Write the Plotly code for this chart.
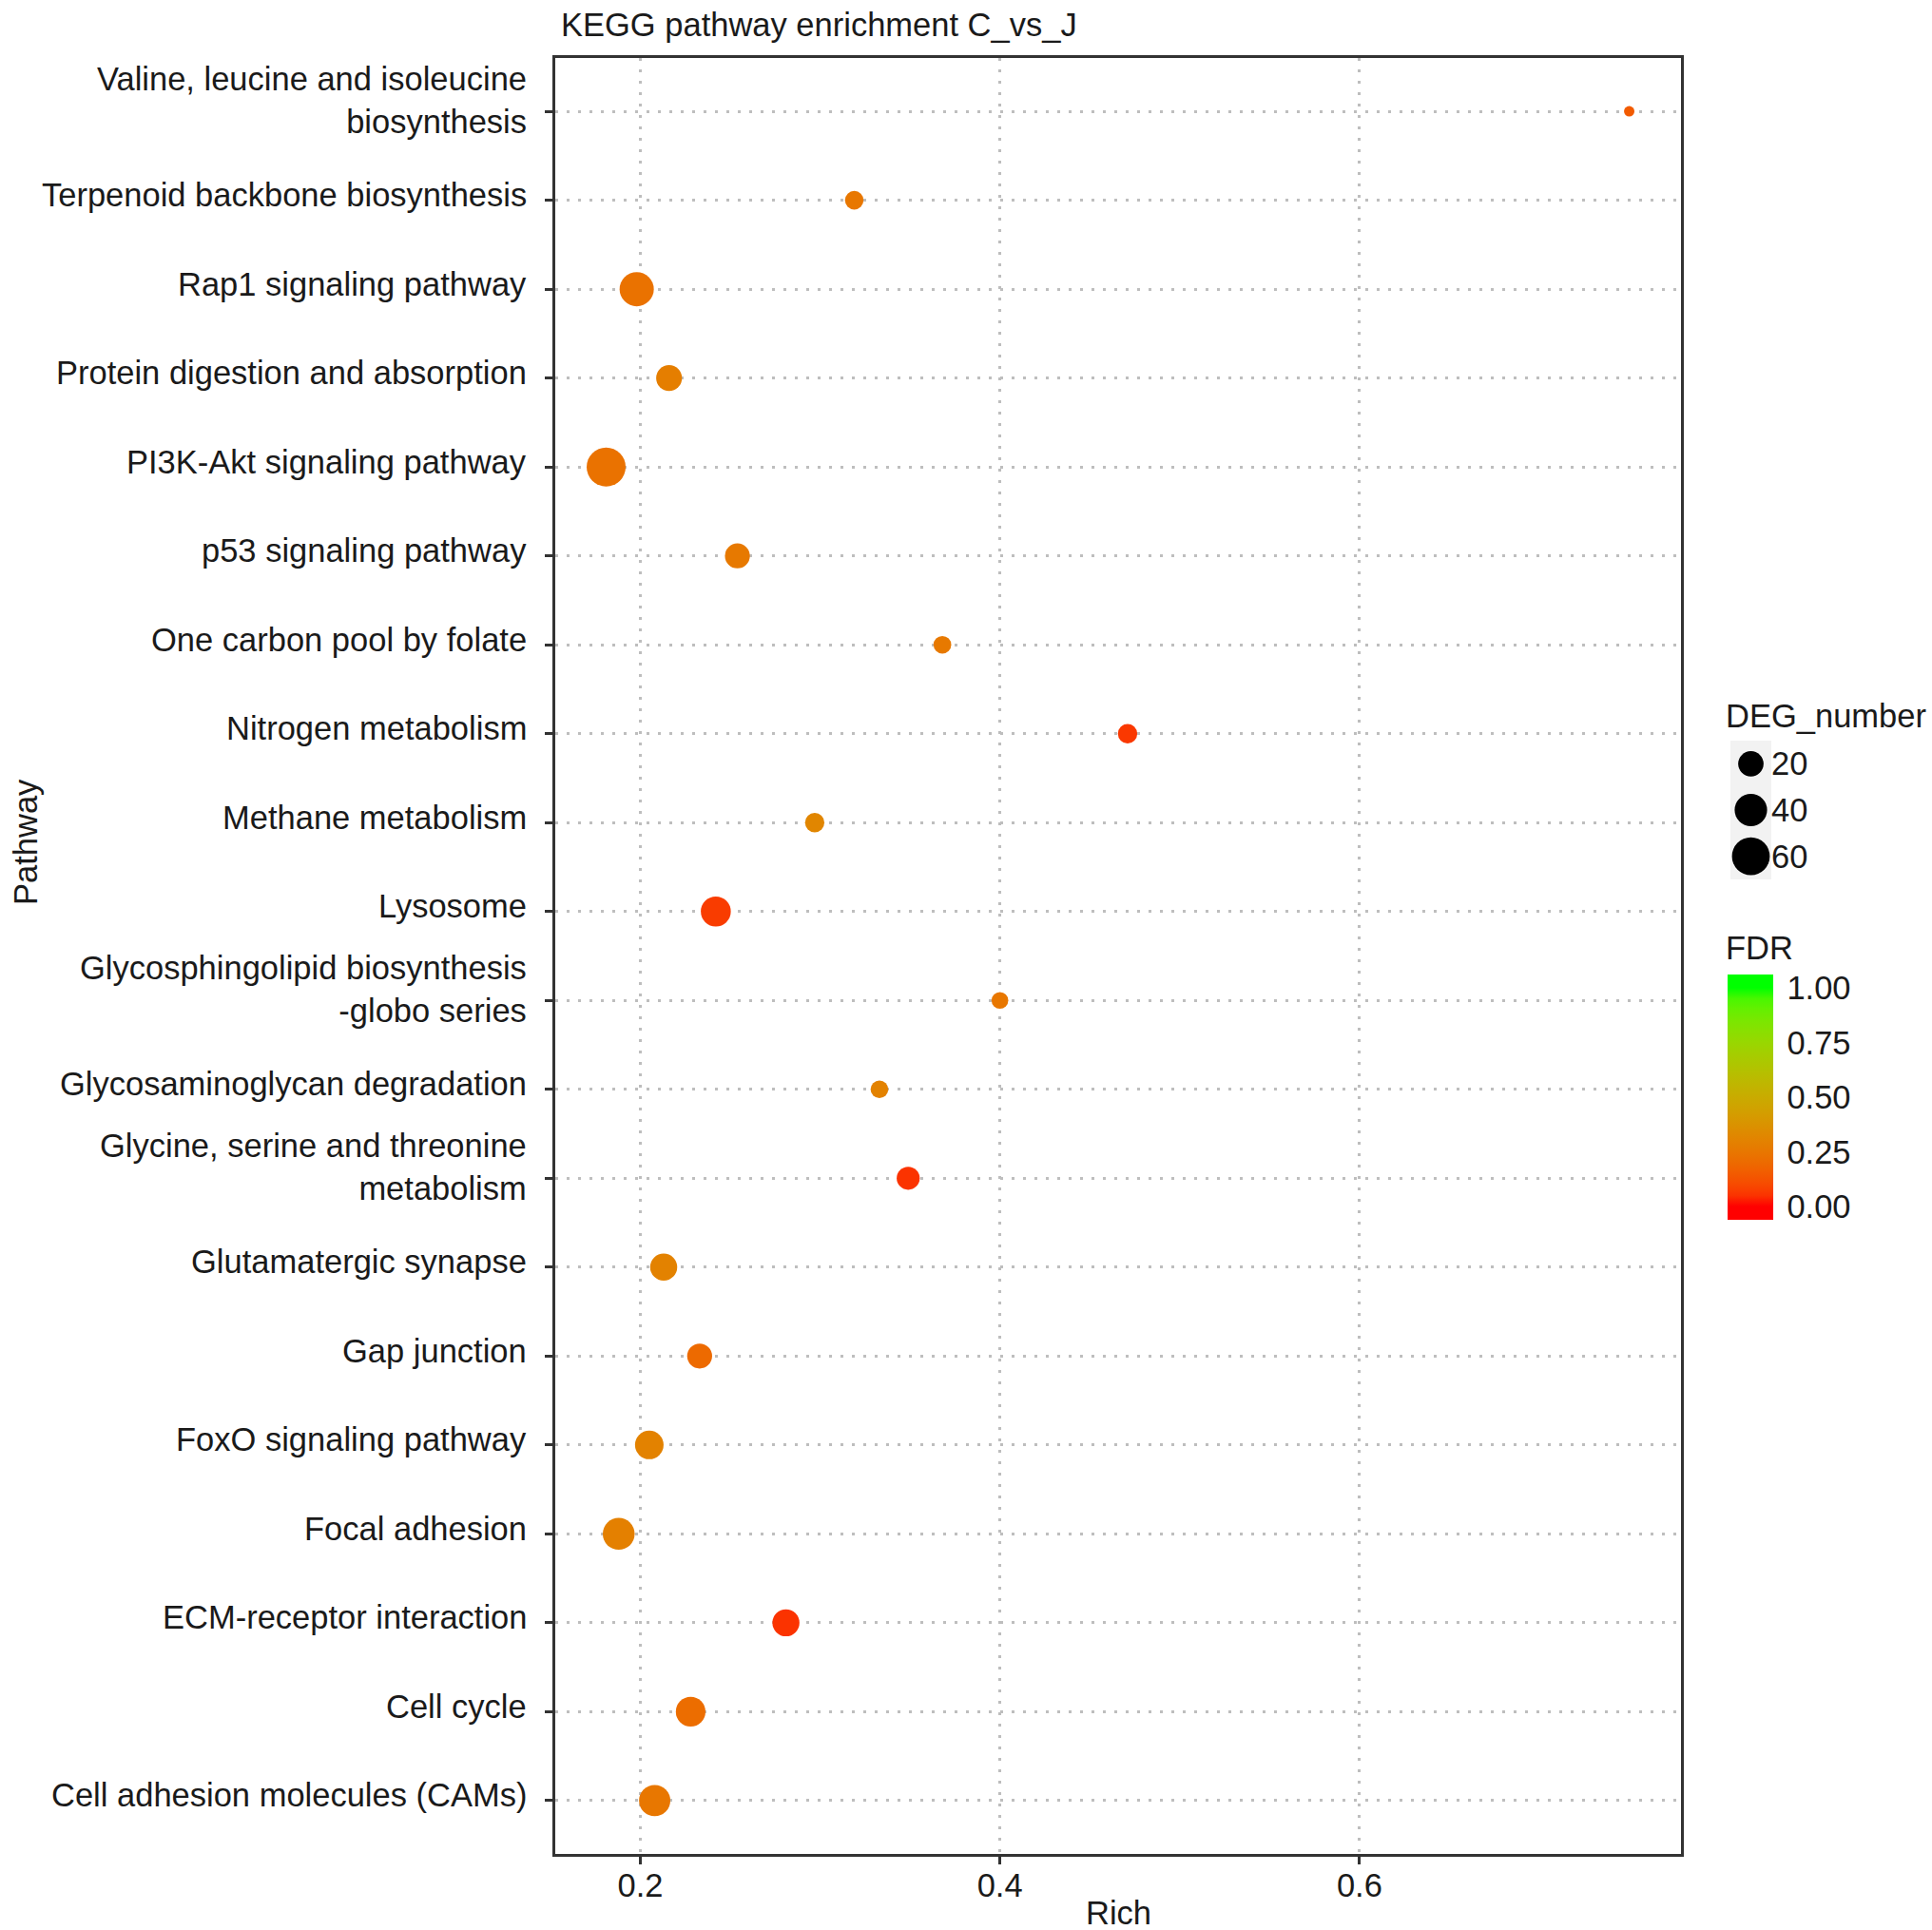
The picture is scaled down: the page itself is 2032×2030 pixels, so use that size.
import numpy as np
import plotly.graph_objects as go

# pathways listed bottom -> top (ggplot discrete order)
pathways = [
    "Cell adhesion molecules (CAMs)",
    "Cell cycle",
    "ECM-receptor interaction",
    "Focal adhesion",
    "FoxO signaling pathway",
    "Gap junction",
    "Glutamatergic synapse",
    "Glycine, serine and threonine<br>metabolism",
    "Glycosaminoglycan degradation",
    "Glycosphingolipid biosynthesis<br>-globo series",
    "Lysosome",
    "Methane metabolism",
    "Nitrogen metabolism",
    "One carbon pool by folate",
    "p53 signaling pathway",
    "PI3K-Akt signaling pathway",
    "Protein digestion and absorption",
    "Rap1 signaling pathway",
    "Terpenoid backbone biosynthesis",
    "Valine, leucine and isoleucine<br>biosynthesis",
]
rich = [0.208, 0.228, 0.281, 0.188, 0.205, 0.233, 0.213, 0.349, 0.333, 0.400,
        0.242, 0.297, 0.471, 0.368, 0.254, 0.181, 0.216, 0.198, 0.319, 0.750]
deg_number = [36, 31, 24, 38, 28, 19, 24, 15, 7, 6,
              32, 9, 9, 7, 19, 65, 21, 46, 8, 3]
fdr = [0.25, 0.21, 0.05, 0.29, 0.30, 0.20, 0.30, 0.05, 0.30, 0.25,
       0.07, 0.32, 0.06, 0.26, 0.26, 0.23, 0.28, 0.23, 0.25, 0.15]

size_legend = [20, 40, 60]
fdr_ticks = [0.0, 0.25, 0.5, 0.75, 1.0]
rich_ticks = [0.2, 0.4, 0.6]

W, H = 2032, 2030
FONT = "Liberation Sans, Arial, Helvetica, sans-serif"
FS = 34.5
TXT = "#1a1a1a"


def fx(px):
    return px / W


def fy(py):
    return 1 - py / H


def lab2hex(L, a, b):
    # CIE Lab (D65) -> sRGB hex, used to mimic ggplot's red->green gradient
    fyy = (L + 16) / 116
    fxx = fyy + a / 500
    fzz = fyy - b / 200

    def finv(t):
        return t ** 3 if t ** 3 > 0.008856 else (t - 16 / 116) / 7.787
    X, Y, Z = 0.95047 * finv(fxx), finv(fyy), 1.08883 * finv(fzz)
    rgb = [3.2406 * X - 1.5372 * Y - 0.4986 * Z,
           -0.9689 * X + 1.8758 * Y + 0.0415 * Z,
           0.0557 * X - 0.2040 * Y + 1.0570 * Z]
    out = []
    for c in rgb:
        c = max(0.0, min(1.0, c))
        c = 12.92 * c if c <= 0.0031308 else 1.055 * c ** (1 / 2.4) - 0.055
        out.append(int(round(c * 255)))
    return "#%02x%02x%02x" % tuple(out)


# colour bar runs a bit past 0 and 1 (like ggplot's binned bar), ends clamped
CMIN, CMAX = -0.061, 1.061
red_lab = (53.2408, 80.0925, 67.2032)
green_lab = (87.7347, -86.1827, 83.1793)
colorscale = [[0.0, lab2hex(*red_lab)]]
for t in np.linspace(0, 1, 21):
    L, a, b = [r + (g - r) * t for r, g in zip(red_lab, green_lab)]
    colorscale.append([float((t - CMIN) / (CMAX - CMIN)), lab2hex(L, a, b)])
colorscale.append([1.0, lab2hex(*green_lab)])


def deg_size(n):
    return 11 + 30 * np.sqrt((np.asarray(n, dtype=float) - 3) / 62)


fig = go.Figure()

fig.add_trace(go.Scatter(
    x=rich, y=pathways, mode="markers",
    marker=dict(size=deg_size(deg_number), color=fdr, colorscale=colorscale,
                cmin=CMIN, cmax=CMAX, line=dict(width=0), opacity=1,
                showscale=True,
                colorbar=dict(
                    x=fx(1817), xanchor="left", y=fy(1154), yanchor="middle",
                    len=258, lenmode="pixels", thickness=48, thicknessmode="pixels",
                    outlinewidth=0, xpad=0, ypad=0,
                    tickvals=fdr_ticks, ticktext=["%.2f" % v for v in fdr_ticks],
                    ticks="outside", ticklen=8, tickwidth=1, tickcolor="white",
                    tickfont=dict(family=FONT, size=FS, color=TXT),
                )),
    showlegend=False, xaxis="x", yaxis="y",
))

# size legend keys
fig.add_trace(go.Scatter(
    x=[0.5] * len(size_legend), y=list(range(len(size_legend)))[::-1],
    mode="markers", marker=dict(size=deg_size(size_legend), color="#000000",
                                opacity=1, line=dict(width=0)),
    showlegend=False, xaxis="x2", yaxis="y2", hoverinfo="skip",
))

grid = dict(showgrid=True, gridcolor="#bebebe", gridwidth=3, griddash="3px,9px")
axis_line = dict(showline=True, mirror=True, linecolor="#333333", linewidth=3,
                 ticks="outside", ticklen=8, tickwidth=2.5, tickcolor="#333333",
                 zeroline=False)

fig.update_layout(
    width=W, height=H,
    margin=dict(l=0, r=0, t=0, b=0),
    paper_bgcolor="white", plot_bgcolor="white",
    font=dict(family=FONT, size=FS, color=TXT),
    xaxis=dict(domain=[fx(584), fx(1768)], range=[0.1527, 0.7788],
               tickvals=rich_ticks, ticktext=[str(v) for v in rich_ticks],
               tickfont=dict(size=FS, color=TXT), automargin=False,
               ticklabelstandoff=-7,
               **grid, **axis_line),
    yaxis=dict(domain=[fy(1950), fy(61)], type="category",
               categoryorder="array", categoryarray=pathways,
               range=[-0.6, len(pathways) - 0.4],
               showticklabels=False, automargin=False,
               **grid, **axis_line),
    xaxis2=dict(domain=[fx(1820), fx(1863)], range=[0, 1], visible=False,
                fixedrange=True),
    yaxis2=dict(domain=[fy(925), fy(779)], range=[-0.5, 2.5], visible=False,
                anchor="x2", fixedrange=True),
)

# pathway labels: ggplot centres them a little above the tick
for name in pathways:
    fig.add_annotation(text=name, xref="paper", yref="y", x=fx(556), y=name,
                       xanchor="right", yanchor="middle", align="right",
                       yshift=11.5 if "<br>" in name else 5.5, showarrow=False,
                       font=dict(family=FONT, size=FS, color=TXT))

fig.add_shape(type="rect", xref="x2 domain", yref="y2 domain",
              x0=0, x1=1, y0=0, y1=1, fillcolor="#f2f2f2", line=dict(width=0),
              layer="below")

for i, v in enumerate(size_legend):
    fig.add_annotation(text=str(v), xref="x2", yref="y2", x=1, y=len(size_legend) - 1 - i,
                       xanchor="left", yanchor="middle", showarrow=False, xshift=-2,
                       font=dict(family=FONT, size=FS, color=TXT))

fig.add_annotation(text="DEG_number", xref="paper", yref="paper", x=fx(1813), y=fy(753),
                   xanchor="left", yanchor="middle", showarrow=False,
                   font=dict(family=FONT, size=FS, color=TXT))
fig.add_annotation(text="FDR", xref="paper", yref="paper", x=fx(1813), y=fy(997),
                   xanchor="left", yanchor="middle", showarrow=False,
                   font=dict(family=FONT, size=FS, color=TXT))
fig.add_annotation(text="KEGG pathway enrichment C_vs_J", xref="paper", yref="paper",
                   x=fx(588), y=fy(26), xanchor="left", yanchor="middle", showarrow=False,
                   font=dict(family=FONT, size=FS, color=TXT))
fig.add_annotation(text="Rich", xref="x domain", yref="paper", x=0.5, y=fy(2012),
                   xanchor="center", yanchor="middle", showarrow=False,
                   font=dict(family=FONT, size=FS, color=TXT))
fig.add_annotation(text="Pathway", xref="paper", yref="paper", x=fx(27), y=fy(886),
                   xanchor="center", yanchor="middle", showarrow=False, textangle=-90,
                   font=dict(family=FONT, size=FS, color=TXT))

# drop the page's default body margin so the 2032x2030 figure fills the window exactly
fig.write_html("out.html", config={"displayModeBar": False},
               post_script="document.body.style.margin='0';"
                           "document.documentElement.style.overflow='hidden';")
